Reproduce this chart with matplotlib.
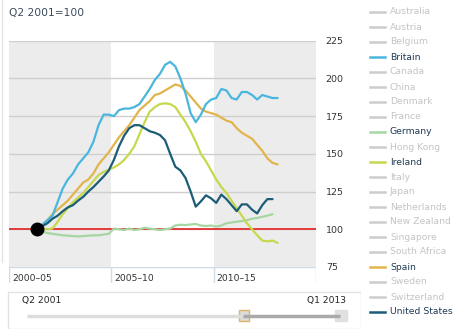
import matplotlib
matplotlib.use("Agg")
import matplotlib.pyplot as plt
from matplotlib.lines import Line2D
from matplotlib.patches import Rectangle
import numpy as np

# Quarterly house prices, Q2 2001 = 100 (Q2 2001 .. Q1 2013)
start_year = 2001
start_quarter = 2
n_quarters = 48

britain = [100, 103, 106, 109, 118, 127, 133, 137, 143, 147, 151, 158,
           169, 176, 176, 175, 179, 180, 180, 181, 183, 188, 193, 199,
           203, 209, 211, 208, 200, 190, 177, 171, 176, 183, 186, 187,
           193, 192, 187, 186, 191, 191, 189, 186, 189, 188, 187, 187]
spain = [100, 103, 106, 110, 113, 116, 119, 123, 127, 131, 133, 137,
         143, 147, 151, 156, 161, 165, 169, 174, 179, 182, 185, 189,
         190, 192, 194, 196, 195, 192, 188, 184, 180, 178, 177, 176,
         174, 172, 171, 167, 164, 162, 160, 156, 152, 147, 144, 143]
ireland = [100, 100.5, 100, 100.5, 105, 110, 114, 118, 121, 124, 128, 132,
           136, 138, 139.5, 141, 143, 146, 150, 155, 163, 171, 178, 181,
           183, 183.5, 183, 181, 176, 171, 165, 158, 150, 145, 139, 133,
           128, 124, 119, 114, 109, 104, 100, 96, 92.5, 92, 92.5, 91]
united_states = [100, 102, 104, 107, 109, 112, 114.5, 116, 119, 121.5, 125, 128,
                 131.5, 135, 139, 146, 155, 162, 167, 169, 169, 167, 165, 164,
                 162.5, 159, 150, 141.5, 139, 134, 125, 115, 118.5, 122.5, 120.5, 117.5,
                 123, 120, 116, 112, 116.5, 116.5, 113, 110.5, 116, 120, 120, np.nan]
germany = [100, 98.5, 97.5, 97, 96.5, 96, 95.8, 95.5, 95.3, 95.5, 95.8, 96,
           96, 96.5, 97, 100.5, 100, 99.5, 100.5, 99.5, 100, 101, 100.5, 100,
           99.5, 100, 100.5, 102.5, 103, 102.8, 103.2, 103.5, 102.5, 102.2, 102.5, 101.8,
           102.5, 104, 104.5, 105, 105.5, 106, 107, 107.5, 108.3, 109, 110, np.nan]

countries = ["Australia", "Austria", "Belgium", "Britain", "Canada", "China",
             "Denmark", "France", "Germany", "Hong Kong", "Ireland", "Italy",
             "Japan", "Netherlands", "New Zealand", "Singapore", "South Africa",
             "Spain", "Sweden", "Switzerland", "United States"]
period_labels = ["2000\u201305", "2005\u201310", "2010\u201315"]
y_ticks = [75, 100, 125, 150, 175, 200, 225]

colors = {
    "Britain": "#4ab6de",
    "Germany": "#a6d6a2",
    "Ireland": "#c7d84c",
    "Spain": "#e2b44c",
    "United States": "#1b5c76",
}
series = {
    "Germany": germany,
    "Ireland": ireland,
    "Spain": spain,
    "Britain": britain,
    "United States": united_states,
}

# quarter mid-points in decimal years
t = start_year + (start_quarter - 1) / 4 + 0.125 + 0.25 * np.arange(n_quarters)

W, H = 470, 330
fig = plt.figure(figsize=(W / 100, H / 100), dpi=100)
plt.rcParams['font.family'] = ['DejaVu Sans']


def fx(px):
    return px / W


def fy(py):
    return 1 - py / H


text_dark = "#333333"

# main plot
ax = fig.add_axes([fx(9), fy(267), fx(316 - 9), fy(40.7) - fy(267)])
ax.set_xlim(2000, 2015)
ax.set_ylim(75, 225)
ax.axvspan(2000, 2005, color="#ececec", lw=0, zorder=0)
ax.axvspan(2010, 2015, color="#ececec", lw=0, zorder=0)
for yv in y_ticks[1:]:
    ax.axhline(yv, color="#cfcfcf", lw=1, zorder=1)
ax.axhline(100, color="#e2302e", lw=1.3, zorder=2)

for name, vals in series.items():
    ax.plot(t, vals, color=colors[name], lw=1.6, zorder=3,
            solid_joinstyle="round", solid_capstyle="round")
ax.plot(t[0], 100, "o", color="black", markersize=9, zorder=5)

ax.set_xticks([])
ax.yaxis.tick_right()
ax.set_yticks(y_ticks)
ax.set_yticklabels([str(v) for v in y_ticks], fontsize=6.8, color=text_dark)
ax.tick_params(axis="y", length=0, pad=7)
for s in ax.spines.values():
    s.set_visible(False)

# period label row under the plot
lab = fig.add_axes([fx(9), fy(283), fx(316 - 9), fy(267) - fy(283)])
lab.set_xlim(2000, 2015)
lab.set_ylim(0, 1)
lab.axis("off")
lab.axhline(1, color="#cfdbe6", lw=1)
for xb in [2000, 2005, 2010, 2015]:
    lab.axvline(xb, color="#cfdbe6", lw=1)
for i, lbl in enumerate(period_labels):
    lab.text(2000 + 5 * i + 0.15, 0.3, lbl, fontsize=6.7, color=text_dark,
             va="center", ha="left")

# subtitle
fig.text(fx(9), fy(13), "Q2 2001=100", fontsize=7.7, color="#3b4a5c",
         va="center", ha="left")

# left border line
fig.add_artist(Line2D([fx(2), fx(2)], [fy(0), fy(262)], color="#e4e4e4", lw=1))

# legend
for i, name in enumerate(countries):
    yy = fy(12 + 15 * i)
    active = name in colors
    c = colors[name] if active else "#cccccc"
    fig.add_artist(Line2D([fx(370), fx(385)], [yy, yy], color=c, lw=1.8))
    fig.text(fx(390), yy, name, fontsize=6.7,
             color="#1f3a55" if active else "#c4c4c4", va="center", ha="left")

# range slider panel
sl = fig.add_axes([fx(7), fy(329), fx(361 - 7), fy(291) - fy(329)])
sl.set_xlim(7, 361)
sl.set_ylim(329, 291)
sl.axis("off")
sl.add_patch(Rectangle((7.5, 291.5), 353, 37, fill=False, ec="#e2e2e2", lw=1))
sl.text(22, 300, "Q2 2001", fontsize=6.6, color="#222222", va="center", ha="left")
sl.text(346, 300, "Q1 2013", fontsize=6.6, color="#222222", va="center", ha="right")
sl.plot([27, 243], [315.5, 315.5], color="#dddddd", lw=2.5, solid_capstyle="butt")
sl.plot([243, 340], [315.5, 315.5], color="#aaaaaa", lw=2.5, solid_capstyle="butt")
sl.add_patch(Rectangle((238.5, 309.5), 10.5, 11, fc="#dcdcdc", ec="#d9b46a", lw=1))
sl.add_patch(Rectangle((335, 309.5), 11.5, 11, fc="#e0e0e0", ec="#e0e0e0", lw=1))

fig.savefig("out.png", dpi=100)
